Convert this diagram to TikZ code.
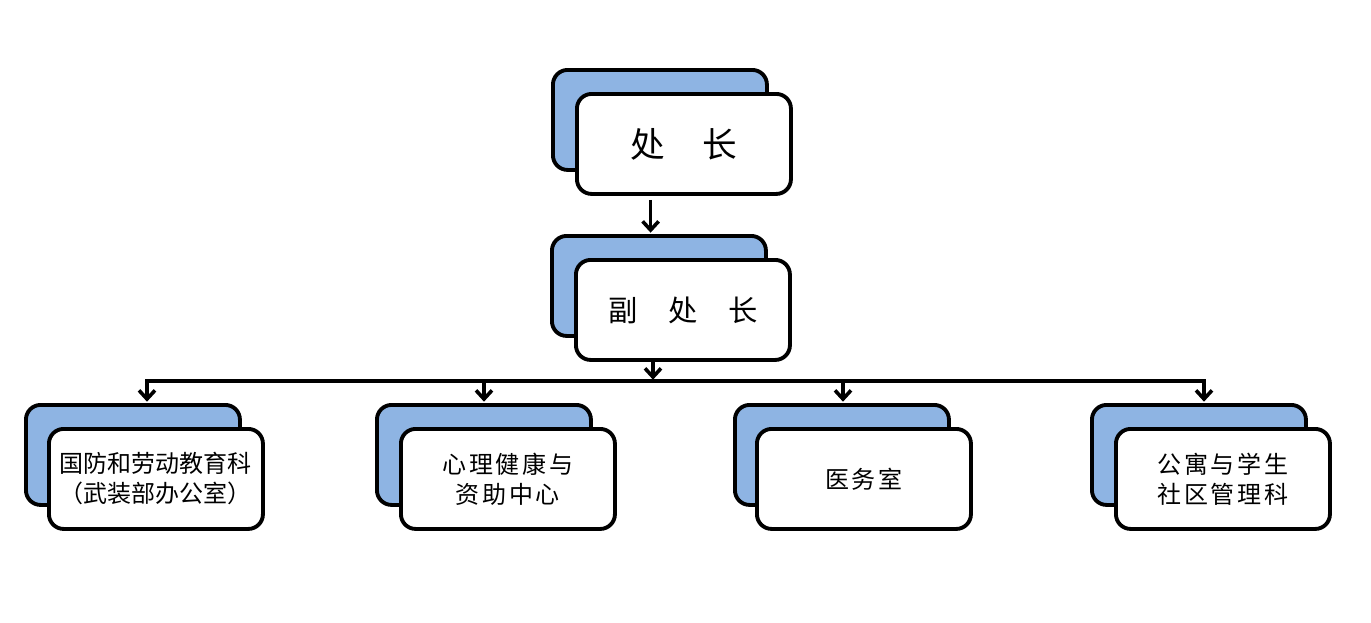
\documentclass[tikz,border=0pt]{standalone}
\usepackage{fontspec}
\newfontfamily\cjk{Noto Sans CJK SC}
\usetikzlibrary{arrows.meta}
\definecolor{boxblue}{HTML}{8EB4E3}
\newdimen\cgap
\def\spcloop#1{\ifx\relax#1\else\kern\cgap#1\expandafter\spcloop\fi}
\newcommand\spaced[2]{\cgap=#1\relax\kern-\cgap\spcloop#2\relax}
\begin{document}
\begin{tikzpicture}[x=0.75pt,y=-0.75pt,
  boxbase/.style={draw=black, line width=2.9pt, rounded corners=11pt,
    minimum width=160.5pt, minimum height=75pt, inner sep=0pt, anchor=north west},
  back/.style={boxbase, fill=boxblue},
  front/.style={boxbase, fill=white, align=center,
    font=\cjk\fontsize{18}{22.5}\selectfont},
  conn/.style={line width=2.7pt, -{Straight Barb[length=6.5pt,width=12pt,line width=2.7pt]}},
  bus/.style={line width=2.7pt}]
\useasboundingbox (0,0) rectangle (1371,622);
% top
\node[back]  (b1) at (551,68) {};
\node[front, font=\cjk\fontsize{26}{30}\selectfont] (f1) at (575,92) {\raisebox{-2pt}{处\hspace{28pt}长}};
% second
\node[back]  (b2) at (550,234) {};
\node[front, font=\cjk\fontsize{22}{26}\selectfont] (f2) at (574,258) {\raisebox{-2pt}{副\hspace{23pt}处\hspace{23pt}长}};
% bottom row
\node[back]  (b3) at (24,403) {};
\node[front] (f3) at (47,427) {\spaced{0pt}{国防和劳动教育科}\\\spaced{0pt}{（武装部办公室）}};
\node[back]  (b4) at (375,403) {};
\node[front] (f4) at (399,427) {\spaced{2pt}{心理健康与}\\\spaced{2pt}{资助中心}};
\node[back]  (b5) at (733,403) {};
\node[front] (f5) at (755,427) {\raisebox{-4pt}{\spaced{2pt}{医务室}}};
\node[back]  (b6) at (1090,403) {};
\node[front] (f6) at (1114,427) {\raisebox{-2pt}{\spaced{2pt}{公寓与学生}}\\\raisebox{-2pt}{\spaced{2pt}{社区管理科}}};
% connectors
\draw[conn, shorten <=3pt, shorten >=1pt] ([xshift=-25pt]f1.south) -- ([xshift=-25pt]f1.south |- b2.north);
\coordinate (j0) at (653,381);
\coordinate (j3) at (147,381);
\coordinate (j4) at (484,381);
\coordinate (j5) at (843,381);
\coordinate (j6) at (1204,381);
\draw[conn, shorten >=1pt] (f2.south -| j0) -- (j0);
\draw[bus] ([xshift=-1.35pt]j3) -- ([xshift=1.35pt]j6);
\draw[conn, shorten >=1pt] (j3) -- (j3 |- b3.north);
\draw[conn, shorten >=1pt] (j4) -- (j4 |- b4.north);
\draw[conn, shorten >=1pt] (j5) -- (j5 |- b5.north);
\draw[conn, shorten >=1pt] (j6) -- (j6 |- b6.north);
\end{tikzpicture}
\end{document}
